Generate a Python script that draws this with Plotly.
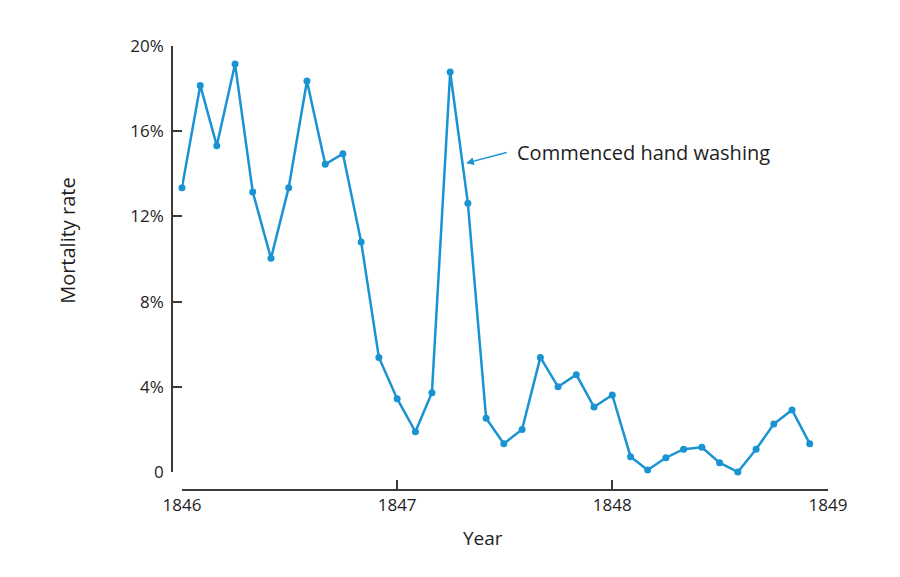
import plotly.graph_objects as go

# Monthly mortality rate (%), first clinic, Jan 1846 - Dec 1848
months = [
    "1846-01-01", "1846-02-01", "1846-03-01", "1846-04-01", "1846-05-01", "1846-06-01",
    "1846-07-01", "1846-08-01", "1846-09-01", "1846-10-01", "1846-11-01", "1846-12-01",
    "1847-01-01", "1847-02-01", "1847-03-01", "1847-04-01", "1847-05-01", "1847-06-01",
    "1847-07-01", "1847-08-01", "1847-09-01", "1847-10-01", "1847-11-01", "1847-12-01",
    "1848-01-01", "1848-02-01", "1848-03-01", "1848-04-01", "1848-05-01", "1848-06-01",
    "1848-07-01", "1848-08-01", "1848-09-01", "1848-10-01", "1848-11-01", "1848-12-01",
]
mortality = [
    13.35, 18.15, 15.32, 19.15, 13.15, 10.03, 13.35, 18.36, 14.45, 14.94, 10.80, 5.38,
    3.44, 1.89, 3.72, 18.78, 12.62, 2.52, 1.33, 2.00, 5.38, 4.00, 4.57, 3.05,
    3.62, 0.72, 0.09, 0.67, 1.07, 1.16, 0.44, 0.00, 1.07, 2.25, 2.91, 1.33,
]

year_ticks = ["1846-01-01", "1847-01-01", "1848-01-01", "1849-01-01"]
year_labels = ["1846", "1847", "1848", "1849"]
pct_ticks = [0, 4, 8, 12, 16, 20]
pct_labels = ["0", "4%", "8%", "12%", "16%", "20%"]

blue = "#1a93d2"
axis_col = "#3a3a3a"
text_col = "#1e1e1e"
font = "Open Sans"

fig = go.Figure()
fig.add_trace(go.Scatter(
    x=months, y=mortality,
    mode="lines+markers",
    line=dict(color=blue, width=2.5),
    marker=dict(color=blue, size=7),
    cliponaxis=False,
    hovertemplate="%{x|%b %Y}: %{y:.1f}%<extra></extra>",
))

# arrow pointing at the spike, then the label
fig.add_annotation(
    x="1847-04-28", y=14.5, xref="x", yref="y",
    text="", showarrow=True,
    ax=42, ay=-11,
    arrowhead=2, arrowsize=1.1, arrowwidth=1.4, arrowcolor=blue,
)
fig.add_annotation(
    x=0.5533, y=15.02, xref="paper", yref="y",
    text="Commenced hand washing", showarrow=False,
    xanchor="left", yanchor="middle",
    font=dict(family=font, size=20, color=text_col),
)
# axis titles
fig.add_annotation(
    x=-0.0427, y=0.56, xref="paper", yref="paper",
    text="Mortality rate", textangle=-90, showarrow=False,
    xanchor="center", yanchor="middle",
    font=dict(family=font, size=20, color=text_col),
)
fig.add_annotation(
    x=0.5107, y=-0.065, xref="paper", yref="paper",
    text="Year", showarrow=False,
    xanchor="center", yanchor="middle",
    font=dict(family=font, size=19, color=text_col),
)

fig.update_layout(
    width=900, height=577,
    margin=dict(l=92, r=58, t=22, b=78),
    paper_bgcolor="white", plot_bgcolor="white",
    showlegend=False,
    font=dict(family=font, size=17, color=text_col),
    xaxis=dict(
        type="date",
        domain=[0.10933, 0.97067],
        range=["1846-01-01", "1849-01-01"],
        anchor="free", position=0.03627,
        tickvals=year_ticks, ticktext=year_labels,
        ticks="inside", ticklen=9, tickwidth=1.5, tickcolor=axis_col,
        showline=True, linecolor=axis_col, linewidth=1.5,
        showgrid=False, zeroline=False, automargin=False,
    ),
    yaxis=dict(
        domain=[0.07338, 0.96646],
        range=[0, 20],
        anchor="free", position=0.096,
        tickvals=pct_ticks, ticktext=pct_labels,
        ticks="inside", ticklen=9, tickwidth=1.5, tickcolor=axis_col,
        showline=True, linecolor=axis_col, linewidth=1.5,
        showgrid=False, zeroline=False, automargin=False,
        ticklabelstandoff=4,
    ),
)

fig.write_html("out.html")
